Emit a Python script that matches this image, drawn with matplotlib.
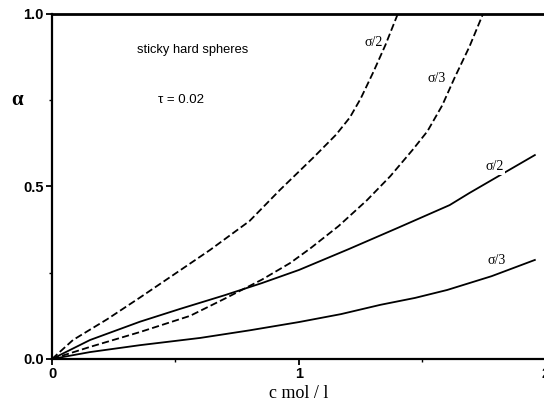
import matplotlib.pyplot as plt
from matplotlib.ticker import MultipleLocator

# dashed curves
x_dash2 = [0, 0.085, 0.223, 0.356, 0.49, 0.64, 0.80, 0.923, 1.06, 1.15, 1.206,
           1.25, 1.30, 1.35, 1.40]
y_dash2 = [0, 0.055, 0.115, 0.178, 0.243, 0.316, 0.40, 0.49, 0.585, 0.65, 0.70,
           0.755, 0.83, 0.91, 1.0]
x_dash3 = [0, 0.154, 0.356, 0.559, 0.70, 0.85, 0.964, 1.045, 1.16, 1.275, 1.37,
           1.46, 1.52, 1.58, 1.63, 1.69, 1.745]
y_dash3 = [0, 0.035, 0.078, 0.125, 0.175, 0.23, 0.278, 0.32, 0.385, 0.46, 0.53,
           0.606, 0.66, 0.735, 0.815, 0.905, 1.0]
# solid curves
x_sol2 = [0, 0.154, 0.356, 0.518, 0.70, 0.85, 1.0, 1.2, 1.4, 1.61, 1.69, 1.82, 1.955]
y_sol2 = [0, 0.055, 0.108, 0.145, 0.185, 0.22, 0.258, 0.318, 0.38, 0.446, 0.481,
          0.535, 0.591]
x_sol3 = [0, 0.154, 0.356, 0.6, 0.8, 1.0, 1.17, 1.33, 1.47, 1.60, 1.78, 1.955]
y_sol3 = [0, 0.02, 0.04, 0.061, 0.083, 0.107, 0.13, 0.157, 0.177, 0.2, 0.24, 0.287]

fig = plt.figure(figsize=(5.44, 4.07), dpi=100)
ax = fig.add_axes([0.0956, 0.118, 0.908, 0.8477])

ax.plot(x_dash2, y_dash2, color='black', lw=1.3, ls=(0, (4, 1.8)))
ax.plot(x_dash3, y_dash3, color='black', lw=1.3, ls=(0, (4, 1.8)))
ax.plot(x_sol2, y_sol2, color='black', lw=1.3)
ax.plot(x_sol3, y_sol3, color='black', lw=1.3)

ax.set_xlim(0, 2)
ax.set_ylim(0, 1)
ax.set_xticks([0, 1, 2])
ax.set_xticklabels(['0', '1', '2'])
ax.set_yticks([0, 0.5, 1.0])
ax.set_yticklabels(['0.0', '0.5', '1.0'])
ax.xaxis.set_minor_locator(MultipleLocator(0.5))
ax.yaxis.set_minor_locator(MultipleLocator(0.25))
ax.tick_params(which='major', direction='out', length=4, width=1.3, pad=2)
ax.tick_params(which='minor', direction='out', length=2, width=1)
for lab in ax.get_xticklabels() + ax.get_yticklabels():
    lab.set_fontfamily('Liberation Sans')
    lab.set_fontweight('bold')
    lab.set_fontsize(10.5)

ax.spines['right'].set_visible(False)
ax.spines['top'].set_linewidth(2)
ax.spines['left'].set_linewidth(1.6)
ax.spines['bottom'].set_linewidth(1.6)

ax.set_xlabel('c mol / l', fontfamily='Liberation Serif', fontsize=13)
ax.xaxis.set_label_coords(0.5, -0.075)
ax.set_ylabel('α', fontfamily='Liberation Serif', fontsize=15, fontweight='bold',
              rotation=0, va='center')
ax.yaxis.set_label_coords(-0.07, 0.75)

ax.text(0.344, 0.896, 'sticky hard spheres', fontfamily='Liberation Sans',
        fontsize=9.3, va='center', ha='left')
ax.text(0.43, 0.75, 'τ = 0.02', fontfamily='Liberation Sans',
        fontsize=9.5, va='center', ha='left')

sig = dict(fontfamily='Liberation Serif', fontsize=10, va='center', ha='left')
ax.text(1.267, 0.916, 'σ/2', **sig)
ax.text(1.52, 0.814, 'σ/3', **sig)
ax.text(1.755, 0.557, 'σ/2',
        bbox=dict(facecolor='white', edgecolor='none', pad=1), **sig)
ax.text(1.765, 0.285, 'σ/3', **sig)

fig.savefig('out.png', dpi=100)
